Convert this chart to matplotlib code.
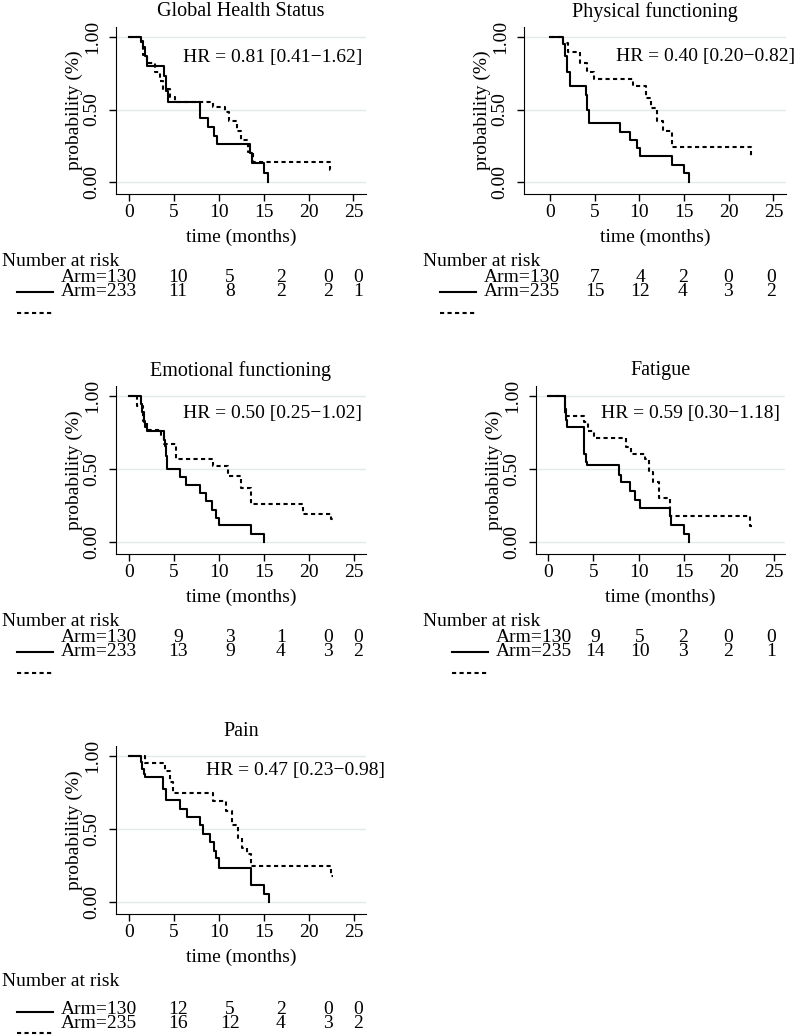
import matplotlib
matplotlib.use("Agg")
import matplotlib.pyplot as plt
from matplotlib.lines import Line2D

plt.rcParams['font.family'] = 'Liberation Serif'

W, H = 794, 1035  # figure size in pixels

# --- data ---
titles = ["Global Health Status", "Physical functioning", "Emotional functioning",
          "Fatigue", "Pain"]
hr_labels = ["HR = 0.81 [0.41\u22121.62]", "HR = 0.40 [0.20\u22120.82]",
             "HR = 0.50 [0.25\u22121.02]", "HR = 0.59 [0.30\u22121.18]",
             "HR = 0.47 [0.23\u22120.98]"]

# arm 1 (solid) step curves: event times and survival after each step
arm1_t = [
    [0, 1.3, 1.6, 1.8, 2.0, 3.9, 4.1, 4.3, 7.9, 8.8, 9.5, 9.8, 13.5, 13.7, 15.05, 15.5],
    [0, 1.5, 1.7, 1.9, 2.2, 4.0, 4.2, 4.35, 7.8, 9.0, 9.7, 10.1, 13.6, 15.0, 15.5],
    [0, 1.3, 1.5, 1.65, 1.8, 1.96, 3.9, 4.0, 4.1, 4.25, 5.66, 6.3, 7.9, 8.5, 9.2, 9.7, 10.0, 13.5, 15.0],
    [0, 1.85, 2.0, 2.1, 3.9, 4.0, 4.15, 4.3, 7.8, 8.1, 9.0, 9.6, 10.1, 13.45, 13.55, 15.0, 15.6],
    [0, 1.3, 1.5, 1.65, 1.8, 3.8, 4.1, 5.66, 6.4, 7.9, 8.2, 9.0, 9.4, 9.7, 10.0, 13.5, 15.0, 15.5],
]
arm1_s = [
    [1, 0.967, 0.933, 0.867, 0.80, 0.73, 0.63, 0.55, 0.44, 0.38, 0.32, 0.26, 0.20, 0.13, 0.06, 0],
    [1, 0.95, 0.87, 0.76, 0.66, 0.60, 0.50, 0.41, 0.344, 0.289, 0.236, 0.179, 0.115, 0.06, 0],
    [1, 0.947, 0.89, 0.82, 0.79, 0.76, 0.70, 0.66, 0.59, 0.503, 0.448, 0.39, 0.338, 0.28, 0.218, 0.165, 0.113, 0.055, 0],
    [1, 0.91, 0.84, 0.79, 0.68, 0.60, 0.55, 0.526, 0.46, 0.41, 0.35, 0.29, 0.234, 0.177, 0.115, 0.057, 0],
    [1, 0.96, 0.91, 0.88, 0.86, 0.775, 0.70, 0.64, 0.584, 0.53, 0.464, 0.41, 0.35, 0.30, 0.234, 0.115, 0.057, 0],
]

# arm 2 (dashed) step curves
arm2_t = [
    [0, 1.3, 1.6, 2.0, 2.9, 3.5, 3.8, 4.6, 5.1, 9.4, 10.7, 11.1, 12.0, 12.5, 13.2, 13.8, 22.4, 22.6],
    [0, 1.5, 2.0, 3.4, 4.2, 4.9, 9.3, 10.7, 11.3, 12.0, 12.6, 13.6, 22.45, 22.6],
    [0, 0.9, 1.6, 2.0, 3.6, 3.9, 5.2, 9.3, 11.0, 12.4, 13.5, 19.3, 22.4, 22.6],
    [0, 1.85, 3.95, 4.4, 5.1, 8.6, 9.2, 10.7, 11.1, 11.6, 12.3, 13.5, 22.35, 22.6],
    [0, 1.8, 4.0, 4.5, 4.85, 9.35, 10.8, 11.4, 12.1, 12.5, 13.1, 13.5, 22.4, 22.6],
]
arm2_s = [
    [1, 0.97, 0.88, 0.82, 0.76, 0.70, 0.64, 0.59, 0.55, 0.515, 0.48, 0.42, 0.35, 0.29, 0.21, 0.14, 0.085, 0.085],
    [1, 0.96, 0.90, 0.82, 0.76, 0.71, 0.66, 0.58, 0.51, 0.42, 0.35, 0.24, 0.17, 0.17],
    [1, 0.93, 0.83, 0.77, 0.73, 0.67, 0.57, 0.52, 0.45, 0.37, 0.26, 0.19, 0.16, 0.16],
    [1, 0.867, 0.82, 0.76, 0.71, 0.65, 0.60, 0.57, 0.48, 0.41, 0.30, 0.18, 0.11, 0.11],
    [1, 0.955, 0.90, 0.82, 0.747, 0.69, 0.625, 0.53, 0.44, 0.37, 0.33, 0.246, 0.177, 0.177],
]

arm1_names = ["Arm=130"] * 5
arm2_names = ["Arm=233", "Arm=235", "Arm=233", "Arm=235", "Arm=235"]
risk1 = [[10, 5, 2, 0, 0], [7, 4, 2, 0, 0], [9, 3, 1, 0, 0], [9, 5, 2, 0, 0], [12, 5, 2, 0, 0]]
risk2 = [[11, 8, 2, 2, 1], [15, 12, 4, 3, 2], [13, 9, 4, 3, 2], [14, 10, 3, 2, 1], [16, 12, 4, 3, 2]]

# --- layout (pixels) ---
boxes = [(116, 366, 27, 194), (524, 786, 27, 194), (116, 366, 386, 554),
         (536, 785, 386, 554), (116, 366, 746, 914)]
xlims = [(-1.45, 26.4), (-2.9, 26.4), (-1.44, 26.3), (-1.36, 26.2), (-1.44, 26.3)]
hr_pos = [(6.0, 0.86), (7.4, 0.867), (6.0, 0.878), (5.8, 0.878), (8.55, 0.90)]
row_off = [84, 84, 84, 84, 95]   # first risk row below the x axis
risk_cols_left = [178, 230, 281, 328, 358]
risk_cols_right = [595, 640, 683, 728, 771]

dash = (2, 1.6)
lw = 1.5


def fx(x):
    return x / W


def fy(y):
    return 1 - y / H


fig = plt.figure(figsize=(W / 100, H / 100), dpi=100)

for i in range(5):
    l, r, t, b = boxes[i]
    ax = fig.add_axes([fx(l), fy(b), (r - l) / W, (b - t) / H])
    for yv in [0, 0.5, 1]:
        ax.axhline(yv, color='#e2eaea', lw=1, zorder=0)
    ax.step(arm1_t[i], arm1_s[i], where='post', color='k', lw=lw)
    ax.step(arm2_t[i], arm2_s[i], where='post', color='k', lw=lw, dashes=dash)
    ax.set_xlim(*xlims[i])
    ax.set_ylim(-0.083, 1.07)
    ax.set_xticks([0, 5, 10, 15, 20, 25])
    ax.set_yticks([0, 0.5, 1], ['0.00', '0.50', '1.00'], rotation=90, va='center')
    ax.tick_params(labelsize=14, length=5, width=1, pad=2)
    ax.tick_params(axis='y', pad=6)
    for s in ['top', 'right']:
        ax.spines[s].set_visible(False)
    ax.set_xlabel('time (months)', fontsize=14, va='center')
    ax.xaxis.set_label_coords(0.5, -43 / (b - t))
    ax.set_ylabel('probability (%)', fontsize=14, va='center')
    ax.yaxis.set_label_coords(-42 / (r - l), 0.5)
    ax.text(hr_pos[i][0], hr_pos[i][1], hr_labels[i], fontsize=14, ha='left', va='center')
    fig.text(fx((l + r) / 2), fy(t - 15), titles[i], fontsize=14.5, ha='center', va='center')

    # number at risk table
    right = l > 400
    x0 = 423 if right else 2
    xa = 484 + (l - 524) if right else 61
    cols = risk_cols_right if right else risk_cols_left
    r1 = b + row_off[i]
    r2 = r1 + 14
    fig.text(fx(x0), fy(b + 67), 'Number at risk', fontsize=14, ha='left', va='center')
    fig.text(fx(xa), fy(r1), arm1_names[i], fontsize=14, ha='left', va='center')
    fig.text(fx(xa), fy(r2), arm2_names[i], fontsize=14, ha='left', va='center')
    for c, n1, n2 in zip(cols, risk1[i], risk2[i]):
        fig.text(fx(c), fy(r1), str(n1), fontsize=14, ha='center', va='center')
        fig.text(fx(c), fy(r2), str(n2), fontsize=14, ha='center', va='center')
    lx0, lx1 = xa - 44, xa - 8
    fig.add_artist(Line2D([fx(lx0), fx(lx1)], [fy(b + 98), fy(b + 98)], color='k', lw=lw))
    fig.add_artist(Line2D([fx(lx0), fx(lx1)], [fy(b + 119), fy(b + 119)], color='k', lw=lw,
                          dashes=dash))

fig.savefig('out.png', dpi=100)
